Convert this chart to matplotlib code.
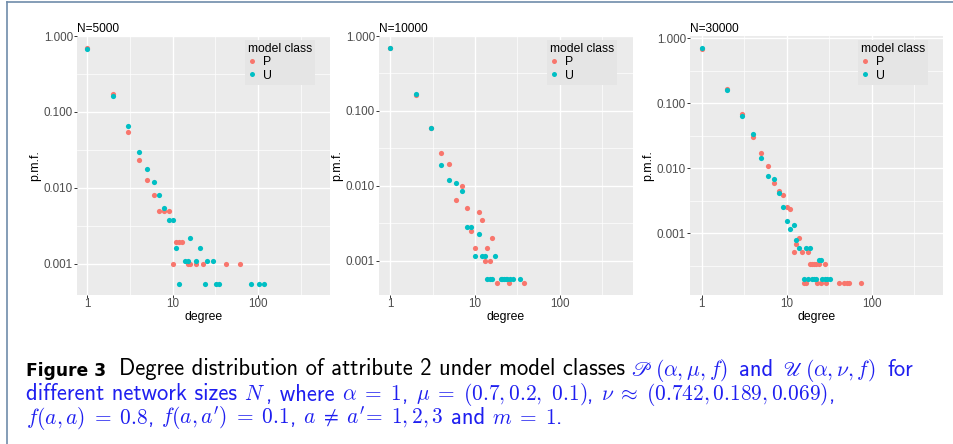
import matplotlib

matplotlib.use("Agg")
import matplotlib.pyplot as plt
from matplotlib.lines import Line2D
from matplotlib.ticker import FixedLocator, FixedFormatter, NullFormatter

plt.rcParams["font.family"] = ["Liberation Sans", "DejaVu Sans"]

P_COLOR = "#F8766D"
U_COLOR = "#00BFC4"
PANEL_BG = "#EBEBEB"
BLUE = "#1F1FF0"
FRAME = "#6F8CAA"

# degree distribution of attribute 2, N = 5000
deg_p_5k = [1, 2, 3, 4, 5, 6, 7, 8, 9, 10, 11, 12, 13, 15, 16, 19, 23, 42, 61]
pmf_p_5k = [0.70, 0.17, 0.055, 0.0235, 0.0128, 0.0079, 0.0049, 0.0049, 0.0049,
            0.00098, 0.00195, 0.00195, 0.00195, 0.00098, 0.00098, 0.00098,
            0.00098, 0.00098, 0.00098]
deg_u_5k = [1, 2, 3, 4, 5, 6, 7, 8, 9, 10, 11, 12, 14, 15, 16, 19, 21, 24, 25,
            30, 32, 35, 83, 103, 119]
pmf_u_5k = [0.673, 0.164, 0.0653, 0.0294, 0.0179, 0.0120, 0.0081, 0.0054,
            0.0038, 0.0038, 0.00161, 0.00054, 0.00108, 0.00108, 0.00217,
            0.00108, 0.00161, 0.00054, 0.00108, 0.00108, 0.00054, 0.00054,
            0.00054, 0.00054, 0.00054]

# N = 10000
deg_p_10k = [1, 2, 3, 4, 5, 6, 7, 8, 9, 10, 11, 12, 13, 14, 15, 16, 18, 25, 38]
pmf_p_10k = [0.69, 0.165, 0.060, 0.027, 0.0195, 0.0065, 0.0100, 0.0050, 0.0025,
             0.0015, 0.0045, 0.0035, 0.0010, 0.0015, 0.0010, 0.0020, 0.000504,
             0.000504, 0.000504]
deg_u_10k = [1, 2, 3, 4, 5, 6, 7, 8, 9, 10, 11, 12, 13, 14, 15, 16, 17, 20, 21,
             22, 23, 24, 26, 28, 34]
pmf_u_10k = [0.685, 0.170, 0.060, 0.019, 0.012, 0.0109, 0.0086, 0.00284,
             0.00284, 0.00115, 0.0023, 0.00115, 0.00115, 0.000575, 0.000575,
             0.000575, 0.00115, 0.000575, 0.000575, 0.000575, 0.000575,
             0.000575, 0.000575, 0.000575, 0.000575]

# N = 30000
deg_p_30k = [1, 2, 3, 4, 5, 6, 7, 8, 9, 10, 11, 12, 13, 14, 15, 16, 17, 18, 19,
             20, 21, 22, 23, 24, 25, 28, 29, 41, 47, 51, 54, 74]
pmf_p_30k = [0.686, 0.168, 0.0678, 0.0307, 0.0174, 0.0107, 0.0059, 0.00443,
             0.0039, 0.0025, 0.00237, 0.00051, 0.00068, 0.00085, 0.00051,
             0.00017, 0.00017, 0.00051, 0.000337, 0.000337, 0.000337, 0.000337,
             0.00017, 0.000337, 0.00017, 0.000337, 0.00017, 0.00017, 0.00017,
             0.00017, 0.00017, 0.00017]
deg_u_30k = [1, 2, 3, 4, 5, 6, 7, 8, 9, 10, 11, 12, 13, 14, 16, 17, 18, 19, 20,
             21, 22, 24, 25, 26, 28, 30, 32]
pmf_u_30k = [0.70, 0.158, 0.063, 0.0334, 0.0146, 0.0076, 0.0068, 0.0041, 0.0025,
             0.00157, 0.00117, 0.00136, 0.00078, 0.00059, 0.000196, 0.00059,
             0.000196, 0.00059, 0.000196, 0.000196, 0.000196, 0.00039, 0.00039,
             0.000196, 0.000196, 0.000196, 0.000196]

panel_titles = ["N=5000", "N=10000", "N=30000"]
series_p = [(deg_p_5k, pmf_p_5k), (deg_p_10k, pmf_p_10k), (deg_p_30k, pmf_p_30k)]
series_u = [(deg_u_5k, pmf_u_5k), (deg_u_10k, pmf_u_10k), (deg_u_30k, pmf_u_30k)]

x_ticks = [1, 10, 100]
y_ticks = [0.001, 0.01, 0.1, 1.0]

W, H = 954, 444
fig = plt.figure(figsize=(W / 100, H / 100), dpi=100)

# panel boxes in pixels: left, top, right, bottom
boxes = [(77, 36, 330, 295), (379, 36, 633, 295), (690, 36, 943, 295)]
x_lims = [(10 ** -0.12, 10 ** 2.845), (10 ** -0.13, 10 ** 2.86), (10 ** -0.14, 10 ** 2.84)]
y_lims = [(10 ** -3.415, 10 ** 0.0), (10 ** -3.458, 10 ** 0.0), (10 ** -3.95, 10 ** 0.035)]


def px_axes(left, top, right, bottom):
    return fig.add_axes([left / W, 1 - bottom / H, (right - left) / W, (bottom - top) / H])


for i, (left, top, right, bottom) in enumerate(boxes):
    ax = px_axes(left, top, right, bottom)
    ax.set_facecolor(PANEL_BG)
    ax.set_xscale("log")
    ax.set_yscale("log")
    ax.set_xlim(*x_lims[i])
    ax.set_ylim(*y_lims[i])

    ax.xaxis.set_major_locator(FixedLocator(x_ticks))
    ax.xaxis.set_major_formatter(FixedFormatter([str(t) for t in x_ticks]))
    ax.xaxis.set_minor_locator(FixedLocator([10 ** 0.5, 10 ** 1.5, 10 ** 2.5]))
    ax.xaxis.set_minor_formatter(NullFormatter())
    ax.yaxis.set_major_locator(FixedLocator(y_ticks))
    ax.yaxis.set_major_formatter(FixedFormatter(["%.3f" % t for t in y_ticks]))
    ax.yaxis.set_minor_locator(FixedLocator([10 ** -3.5, 10 ** -2.5, 10 ** -1.5, 10 ** -0.5]))
    ax.yaxis.set_minor_formatter(NullFormatter())

    ax.grid(True, which="major", color="white", linewidth=1.0)
    ax.grid(True, which="minor", color="white", linewidth=0.5)
    ax.set_axisbelow(True)
    for s in ax.spines.values():
        s.set_visible(False)
    ax.tick_params(which="major", length=2.0, width=0.7, color="#333333",
                   labelcolor="#4D4D4D", labelsize=8.4, pad=1.0)
    ax.tick_params(axis="x", which="major", pad=0.5)
    ax.tick_params(which="minor", length=0)

    dp, vp = series_p[i]
    du, vu = series_u[i]
    ax.scatter(dp, vp, s=14, color=P_COLOR, linewidths=0, zorder=3)
    ax.scatter(du, vu, s=14, color=U_COLOR, linewidths=0, zorder=3)

    ax.set_xlabel("degree", fontsize=8.8, labelpad=0.5)
    ax.set_ylabel("p.m.f.", fontsize=8.8, labelpad=1.5)
    ax.set_title(panel_titles[i], loc="left", fontsize=8.6, pad=3)

    handles = [
        Line2D([], [], ls="none", marker="o", ms=3.6, mfc=P_COLOR, mec="none", label="P"),
        Line2D([], [], ls="none", marker="o", ms=3.6, mfc=U_COLOR, mec="none", label="U"),
    ]
    aw, ah = right - left, bottom - top
    ax.legend(handles=handles, title="model class", loc="upper left",
              bbox_to_anchor=(168 / aw, 1 - 4 / ah),
              frameon=True, fancybox=False, facecolor="#E5E5E5",
              edgecolor="none", framealpha=1, borderpad=0.25,
              borderaxespad=0, handlelength=0.6, handletextpad=0.6,
              labelspacing=0.1, alignment="left", fontsize=8.8,
              title_fontsize=8.7)

# thin frame round the figure block
fig.add_artist(Line2D([7 / W, 1], [1 - 2.5 / H, 1 - 2.5 / H], color=FRAME,
                      linewidth=1.2, transform=fig.transFigure))
fig.add_artist(Line2D([7 / W, 7 / W], [0, 1 - 2.5 / H], color=FRAME,
                      linewidth=1.2, transform=fig.transFigure))

# caption, laid out piece by piece
caption_lines = [
    (375.5, [
        (0, "Figure 3", "black", "bold"),
        (13, "Degree distribution of attribute 2 under model classes", "black", "sf"),
        (6, r"$\mathscr{P}$", BLUE, "scr"),
        (3, r"$(\alpha, \mu, f)$", BLUE, "math"),
        (11, "and", BLUE, "sf"),
        (10, r"$\mathscr{U}$", BLUE, "scr"),
        (3, r"$(\alpha, \nu, f)$", BLUE, "math"),
        (11, "for", BLUE, "sf"),
    ]),
    (400.5, [
        (0, "different network sizes", BLUE, "sf"),
        (7, r"$N$", BLUE, "math"),
        (1, ", where", BLUE, "sf"),
        (8, r"$\alpha\;=\;1$", BLUE, "math"),
        (0, ",", BLUE, "sf"),
        (8, r"$\mu\;=\;(0.7, 0.2,\ 0.1)$", BLUE, "math"),
        (0, ",", BLUE, "sf"),
        (8, r"$\nu\;\approx\;(0.742, 0.189, 0.069)$", BLUE, "math"),
        (0, ",", BLUE, "sf"),
    ]),
    (423.5, [
        (0, r"$f(a,a)\;=\;0.8$", BLUE, "math"),
        (0, ",", BLUE, "sf"),
        (7, r"$f(a,a^{\prime})\;=\;0.1$", BLUE, "math"),
        (0, ",", BLUE, "sf"),
        (7, r"$a\;\neq\;a^{\prime}\!=\;1,2,3$", BLUE, "math"),
        (7, "and", BLUE, "sf"),
        (7, r"$m\;=\;1$", BLUE, "math"),
        (0, ".", BLUE, "sf"),
    ]),
]

CAP_SIZE = 16.3
MATH_SIZE = 15.4
renderer = fig.canvas.get_renderer()
for baseline, pieces in caption_lines:
    x = 26
    for gap, text, color, kind in pieces:
        x += gap
        kw = dict(fontsize=CAP_SIZE, color=color, va="baseline", ha="left")
        if kind == "bold":
            kw.update(family="DejaVu Sans", weight="bold", fontsize=12.3)
        elif kind == "sf":
            kw.update(family="cmss10")
        elif kind == "scr":
            kw.update(math_fontfamily="stix", fontsize=MATH_SIZE)
        else:
            kw.update(math_fontfamily="cm", fontsize=MATH_SIZE)
        t = fig.text(x / W, 1 - baseline / H, text, **kw)
        x = t.get_window_extent(renderer).x1

fig.savefig("out.png", dpi=100, facecolor="white")
